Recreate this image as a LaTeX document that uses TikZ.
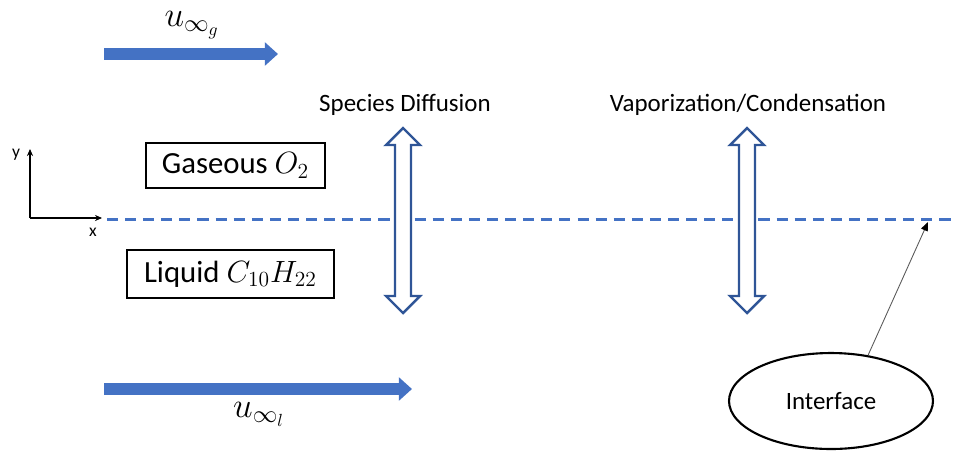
\RequirePackage{fix-cm}
\documentclass[tikz,border=0pt]{standalone}
\usepackage{fontspec}
\setmainfont{Carlito}
\setsansfont{Carlito}
\usepackage{tikz}
\usetikzlibrary{arrows.meta, shapes.geometric}
\definecolor{flowblue}{RGB}{68, 114, 196}
\definecolor{arrowedge}{RGB}{47, 85, 151}
\tikzset{
	flow/.style={draw=flowblue, line width=6.4pt, -{Triangle[length=7.5pt, width=13pt]}},
	flowlabel/.style={font=\fontsize{20}{24}\selectfont},
	interline/.style={draw=flowblue, line width=1.7pt, dash pattern=on 6.3pt off 4pt},
	dblarrow/.style={draw=arrowedge, line width=1.4pt, fill=white, line join=miter},
	phasebox/.style={draw, line width=0.7pt, inner sep=0pt, font=\fontsize{17.5}{20}\selectfont},
	tag/.style={font=\fontsize{14.2}{17}\selectfont},
	axis/.style={line width=0.6pt, -{Stealth[length=4pt, width=3.5pt]}}
}
\begin{document}
\begin{tikzpicture}[x=0.02cm, y=-0.02cm]
	\useasboundingbox (0,0) rectangle (957,451);

	% free-stream velocities
	\coordinate (g0) at (104,54);
	\coordinate (g1) at (278,54);
	\coordinate (l0) at (104,389);
	\coordinate (l1) at (412,389);
	\draw[flow] (g0) -- (g1);
	\draw[flow] (l0) -- (l1);
	\node[flowlabel] (ug) at (192,25) {$u_{\infty_g}$};
	\node[flowlabel] (ul) at (259,414) {$u_{\infty_l}$};

	% axes
	\coordinate (o) at (30,218);
	\coordinate (ytip) at (30,149);
	\coordinate (xtip) at (102,218);
	\draw[axis] (o) -- (ytip);
	\draw[axis] (o) -- (xtip);
	\node[font=\fontsize{10}{12}\selectfont] (ylab) at (16,155) {y};
	\node[font=\fontsize{10}{12}\selectfont] (xlab) at (93,232) {x};

	% interface line
	\coordinate (i0) at (107,219);
	\coordinate (i1) at (957,219);
	\draw[interline] (i0) -- (i1);

	% phases
	\node[phasebox, minimum width=3.58cm, minimum height=0.9cm] (gas) at (235.5,165.5) {Gaseous $O_2$};
	\node[phasebox, minimum width=4.14cm, minimum height=0.96cm] (liq) at (230.5,274) {Liquid $C_{10}H_{22}$};

	% exchange across the interface
	\foreach \cx in {403,747}{
		\draw[dblarrow] (\cx,128) -- (\cx+17,145) -- (\cx+8,145) -- (\cx+8,296) -- (\cx+17,296)
			-- (\cx,313) -- (\cx-17,296) -- (\cx-8,296) -- (\cx-8,145) -- (\cx-17,145) -- cycle;
	}
	\node[tag] (diff) at (405,105) {Species Diffusion};
	\node[tag] (vap) at (748,105) {Vaporization/Condensation};

	% interface label
	\node[ellipse, draw, line width=1.2pt, minimum width=4.08cm, minimum height=1.92cm, tag] (iface) at (831,401) {Interface};
	\coordinate (ifpt) at (928,222);
	\draw[gray!70!black, line width=0.5pt, -{Triangle[length=5pt, width=4pt, black]}] (iface.51) -- (ifpt);
\end{tikzpicture}
\end{document}
